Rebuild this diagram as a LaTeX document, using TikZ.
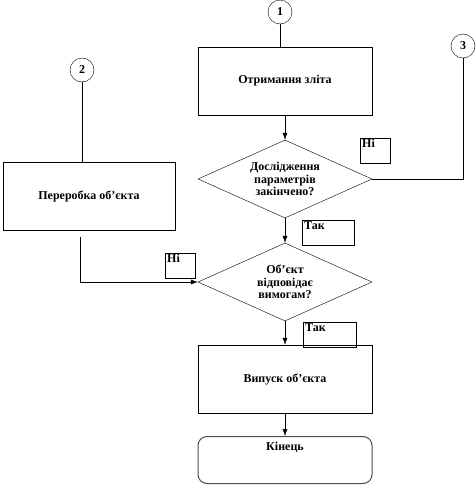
\documentclass[tikz,border=0pt]{standalone}
\usepackage{fontspec}
\setmainfont{Liberation Serif}
\usetikzlibrary{shapes.geometric,arrows.meta}
\begin{document}
\begin{tikzpicture}[x=1pt,y=-1pt,
    font=\fontsize{12}{12.5}\selectfont\bfseries,
    proc/.style={draw,rectangle,minimum width=174pt,minimum height=68pt,inner sep=0pt},
    dec/.style={draw,diamond,aspect=2.23,minimum width=174pt,minimum height=78pt,inner sep=0pt,align=center},
    conn/.style={draw,circle,minimum size=24pt,inner sep=0pt},
    mark box/.style={draw,rectangle,inner sep=2pt,anchor=north west,text width=#1,minimum height=23pt,text depth=14pt,text height=7pt},
    arr/.style={-{Latex[length=7pt,width=5pt]}}]
    \useasboundingbox (0,0) rectangle (476,485);
    % main column
    \node[conn] (c1) at (280,12) {1};
    \node[proc] (get) at (285,81) {Отримання зліта};
    \node[dec] (test) at (285,179) {Дослідження\\параметрів\\закінчено?};
    \node[dec] (check) at (285,282) {Об’єкт\\відповідає\\вимогам?};
    \node[proc] (release) at (285,379) {Випуск об’єкта};
    \node[draw=black!70,line width=1pt,rounded corners=9pt,minimum width=174pt,minimum height=47pt] (stop) at (285,460) {};
    \node[below=3pt] (stoptxt) at (stop.north) {Кінець};
    % left branch
    \node[conn] (c2) at (82,70) {2};
    \node[proc,minimum width=172pt] (rework) at (89,196) {Переробка об’єкта};
    \coordinate (back) at (80,237);
    % right branch
    \node[conn] (c3) at (463,46) {3};
    % answer boxes
    \node[mark box=26pt] (no1) at (360,138) {Ні};
    \node[mark box=48pt] (yes1) at (302,220) {Так};
    \node[mark box=26pt] (no2) at (165,253) {Ні};
    \node[mark box=49pt] (yes2) at (303,322) {Так};
    % connectors
    \draw (c1) -- (c1|-get.north);
    \draw[arr] (get) -- (test);
    \draw (test.east) -| (c3);
    \draw[arr] (test) -- (check);
    \draw[arr] (check) -- (release);
    \draw[arr] (release) -- (stop);
    \draw (c2) -- (c2|-rework.north);
    \draw[arr] (back) |- (check.west);
\end{tikzpicture}
\end{document}
